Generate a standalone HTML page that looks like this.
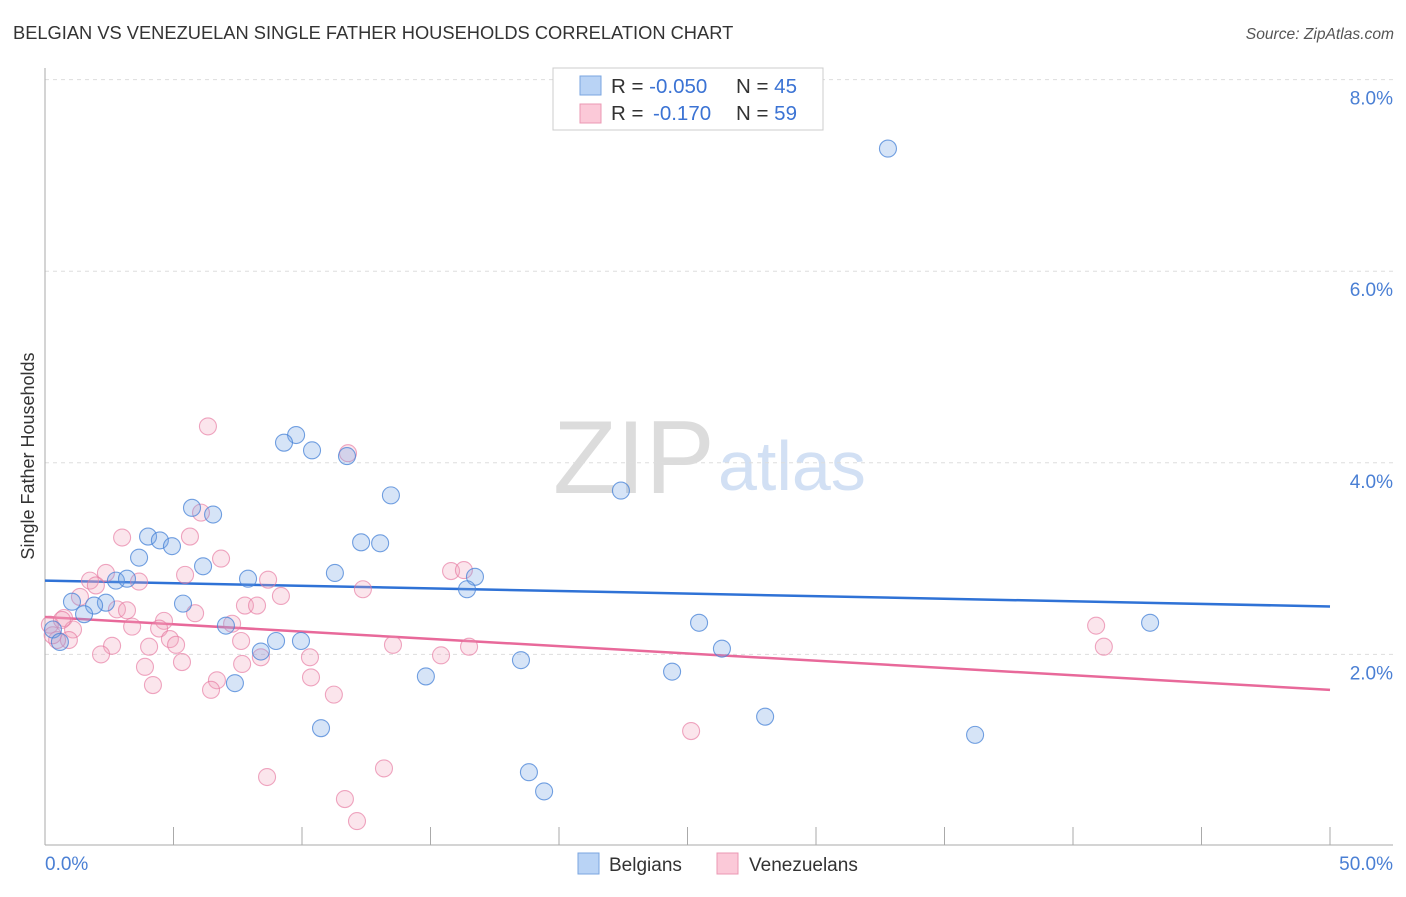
<!DOCTYPE html>
<html><head><meta charset="utf-8"><style>
body{margin:0;background:#fff;font-family:"Liberation Sans",sans-serif;}
svg text{font-family:"Liberation Sans",sans-serif;}
</style></head><body>
<svg id="chart" width="1406" height="892" xmlns="http://www.w3.org/2000/svg">
<text x="13" y="39" font-size="18.3" fill="#333">BELGIAN VS VENEZUELAN SINGLE FATHER HOUSEHOLDS CORRELATION CHART</text>
<text x="1394" y="39" font-size="15.6" fill="#555" text-anchor="end" font-style="italic">Source: ZipAtlas.com</text>
<text x="553" y="493" font-size="104" fill="#dcdcdc" font-family="Liberation Serif">ZIP</text>
<text x="718" y="490" font-size="70" fill="#d2e0f4">atlas</text>
<g id="grid"></g>
<g id="axes"></g>
<g id="trend"></g>
<g id="pts"></g>
<text transform="translate(34,456) rotate(-90)" font-size="18" fill="#333" text-anchor="middle">Single Father Households</text>
<g>
<rect x="553" y="68" width="270" height="62" fill="#fff" stroke="#ccc"/>
<rect x="580" y="76" width="21" height="19" fill="#b9d3f5" stroke="#7aa6e0"/>
<rect x="580" y="104" width="21" height="19" fill="#fbc9d8" stroke="#eb98b3"/>
<text x="611" y="93" font-size="20.5" fill="#333">R = <tspan fill="#3b73d4">-0.050</tspan><tspan x="736">N = </tspan><tspan fill="#3b73d4">45</tspan></text>
<text x="611" y="120" font-size="20.5" fill="#333">R = <tspan x="653" fill="#3b73d4">-0.170</tspan><tspan x="736">N = </tspan><tspan fill="#3b73d4">59</tspan></text>
</g>
<g>
<rect x="578" y="853" width="21" height="21" fill="#b9d3f5" stroke="#7aa6e0"/>
<text x="609" y="871" font-size="19" fill="#333">Belgians</text>
<rect x="717" y="853" width="21" height="21" fill="#fbc9d8" stroke="#eb98b3"/>
<text x="749" y="871" font-size="19" fill="#333">Venezuelans</text>
</g>
</svg>
<script>
const yTicks=[2,4,6,8];
const yTickLabels=["2.0%","4.0%","6.0%","8.0%"];
const xTickLabels=["0.0%","50.0%"];
const belgX=[32.8,9.77,9.30,10.39,11.75,13.46,22.41,5.72,6.54,4.01,4.47,4.94,12.30,13.04,3.66,6.15,11.28,16.73,7.90,2.76,3.19,16.42,1.05,2.37,1.91,5.37,1.52,7.04,25.45,43.0,0.31,8.99,9.96,8.40,26.34,0.58,18.52,24.40,14.82,7.39,28.02,10.74,36.19,18.83,19.42];
const belgY=[7.28,4.29,4.21,4.13,4.07,3.66,3.71,3.53,3.46,3.23,3.19,3.13,3.17,3.16,3.01,2.92,2.85,2.81,2.79,2.77,2.79,2.68,2.55,2.54,2.51,2.53,2.42,2.30,2.33,2.33,2.26,2.14,2.14,2.03,2.06,2.13,1.94,1.82,1.77,1.70,1.35,1.23,1.16,0.77,0.57];
const venX=[6.34,11.79,6.07,3.00,5.64,6.85,2.37,15.80,16.30,5.45,1.75,3.66,8.68,1.98,12.37,9.18,1.36,7.78,8.25,2.80,3.19,5.84,0.74,4.63,3.39,7.28,4.44,1.09,40.9,0.19,4.86,0.93,7.63,2.61,4.05,5.10,13.54,16.50,41.2,2.18,15.41,10.31,8.40,5.33,7.67,3.89,10.35,6.69,4.20,6.46,11.24,25.14,13.19,8.64,11.67,12.14,0.47,0.66,0.3];
const venY=[4.38,4.10,3.48,3.22,3.23,3.00,2.85,2.87,2.88,2.83,2.77,2.76,2.78,2.72,2.68,2.61,2.60,2.51,2.51,2.47,2.46,2.43,2.38,2.35,2.29,2.32,2.27,2.26,2.30,2.31,2.16,2.15,2.14,2.09,2.08,2.10,2.10,2.08,2.08,2.00,1.99,1.97,1.97,1.92,1.90,1.87,1.76,1.73,1.68,1.63,1.58,1.20,0.81,0.72,0.49,0.26,2.15,2.36,2.2];
const belgTrend=[2.77,2.50];
const venTrend=[2.39,1.63];
const X0=45,X1=1330,Y0=846,PPU=95.8;
const sx=v=>X0+(v/50)*(X1-X0);
const sy=v=>Y0-v*PPU;
const NS="http://www.w3.org/2000/svg";
function mk(tag,attrs,parent){const e=document.createElementNS(NS,tag);for(const k in attrs)e.setAttribute(k,attrs[k]);parent.appendChild(e);return e;}
const grid=document.getElementById('grid'),axes=document.getElementById('axes'),trend=document.getElementById('trend'),pts=document.getElementById('pts');
yTicks.forEach((t,i)=>{
 const l=mk('line',{x1:X0,x2:1393,y1:sy(t),y2:sy(t),stroke:'#ddd','stroke-dasharray':'4,4'},grid);
 
 
 const tx=mk('text',{x:1393,y:sy(t)+25,'font-size':19,fill:'#4a7fd4','text-anchor':'end'},grid);
 tx.textContent=yTickLabels[i];
 
 
});
let a=mk('line',{x1:X0,x2:X0,y1:68,y2:845,stroke:'#aaa'},axes);


a=mk('line',{x1:X0,x2:1393,y1:845,y2:845,stroke:'#aaa'},axes);


for(let i=0;i<=10;i++){
 const t=mk('line',{x1:sx(i*5),x2:sx(i*5),y1:827,y2:845,stroke:'#aaa'},axes);
 
 
}
[[0,'start',45],[50,'end',1393]].forEach((d,i)=>{
 const t=mk('text',{x:d[2],y:870,'font-size':19,fill:'#4a7fd4','text-anchor':d[1]},axes);
 t.textContent=xTickLabels[i];
 
 
});
function dots(xs,ys,fill,stroke,name){
 xs.forEach((x,i)=>{
  const c=mk('circle',{cx:sx(x),cy:sy(ys[i]),r:8.5,fill:fill,stroke:stroke,'stroke-width':1.1},pts);
  
  
 });
}
dots(venX,venY,'rgba(242,160,188,0.28)','rgba(230,120,160,0.65)','venezuelan-point');
dots(belgX,belgY,'rgba(120,165,230,0.3)','rgba(70,130,215,0.75)','belgian-point');
let tl=mk('line',{x1:sx(0),x2:sx(50),y1:sy(belgTrend[0]),y2:sy(belgTrend[1]),stroke:'#2f72d6','stroke-width':2.5},trend);


tl=mk('line',{x1:sx(0),x2:sx(50),y1:sy(venTrend[0]),y2:sy(venTrend[1]),stroke:'#e8699a','stroke-width':2.5},trend);


</script>
</body></html>
